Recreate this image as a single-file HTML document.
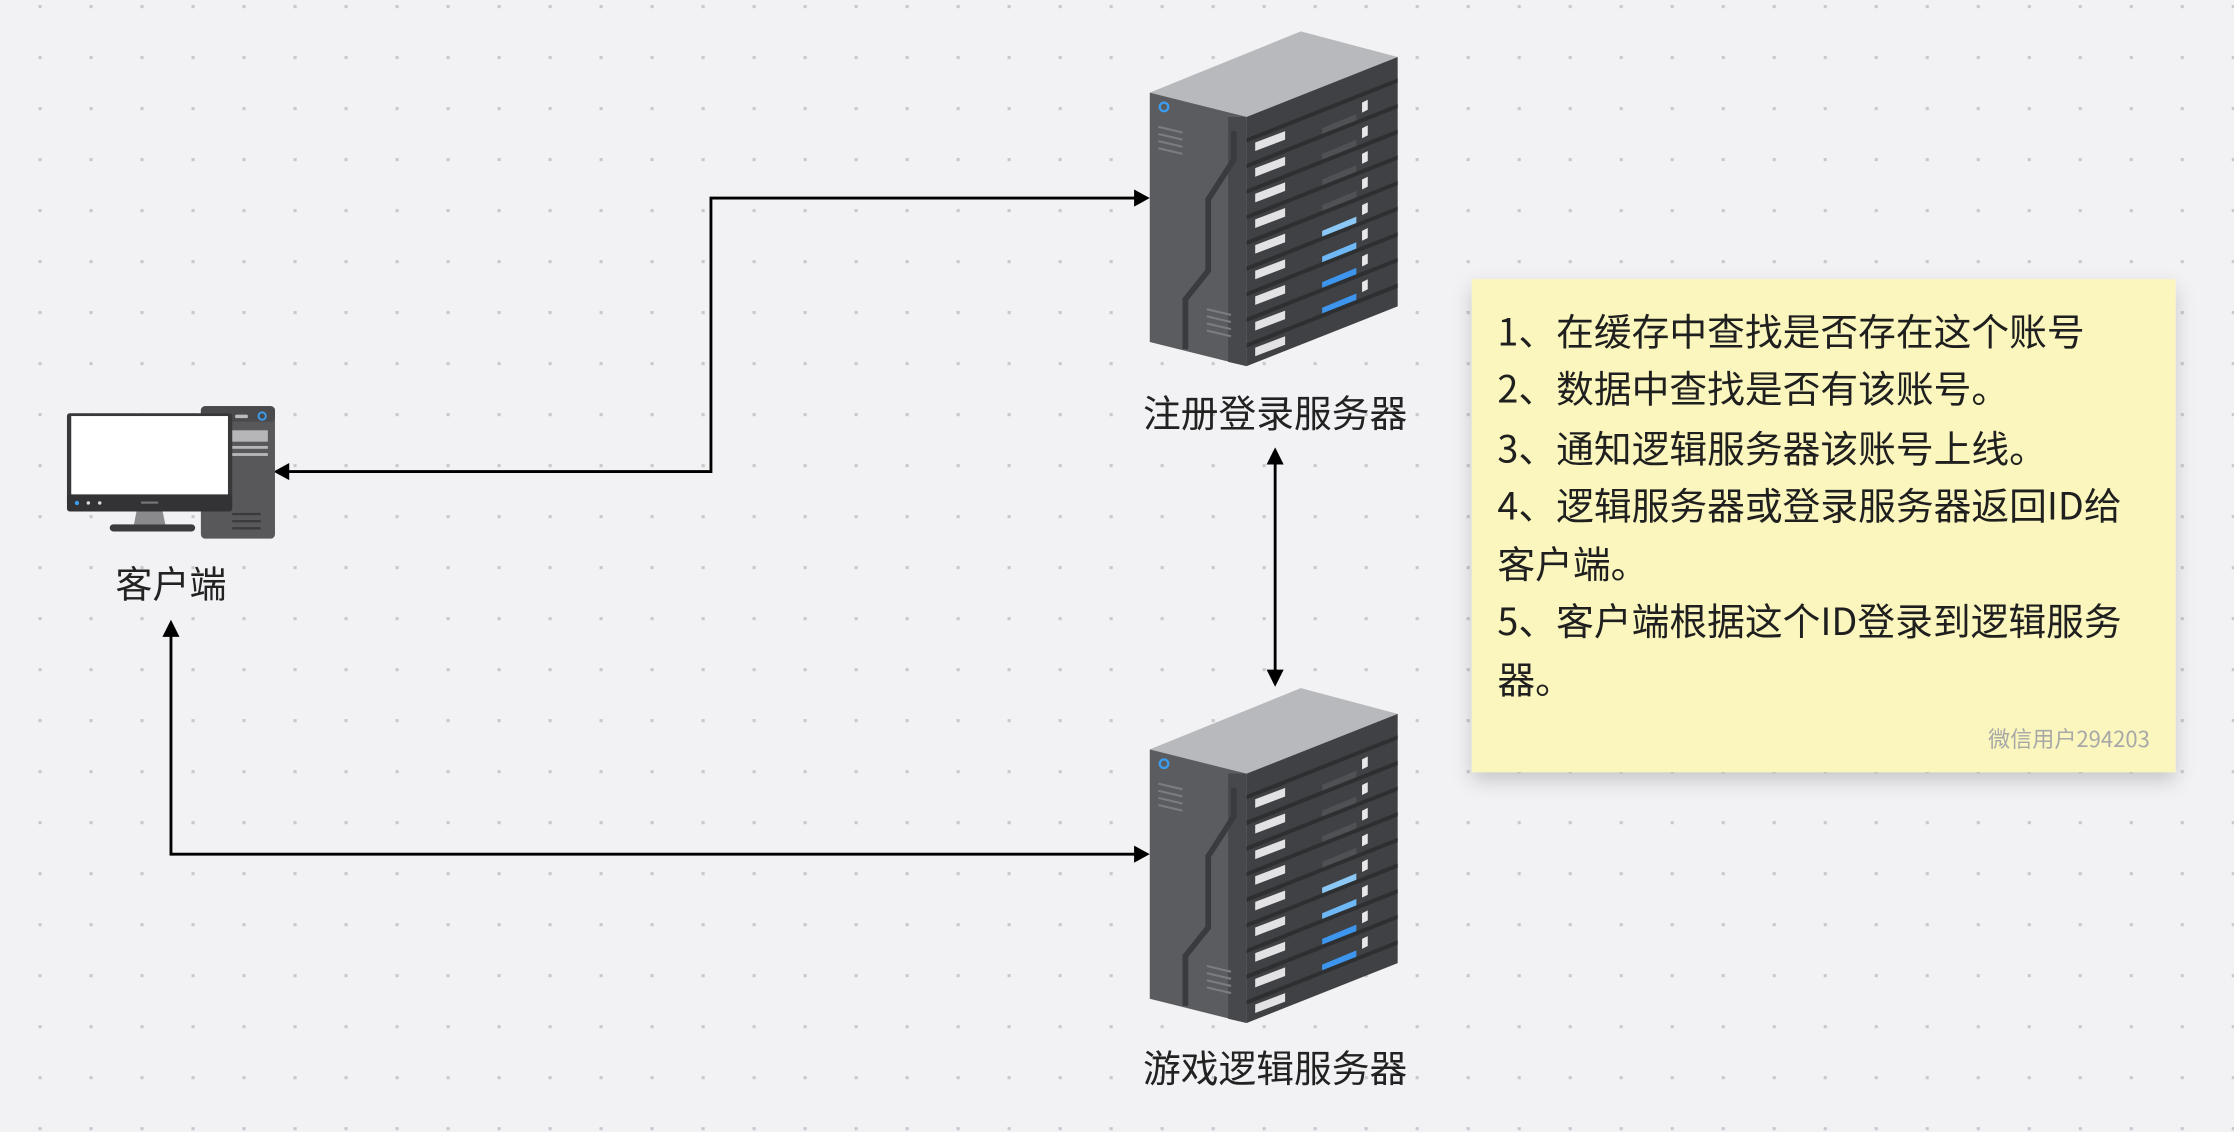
<!DOCTYPE html>
<html><head><meta charset="utf-8"><style>
html,body{margin:0;padding:0;background:#f2f2f4;}
svg{display:block}
text{font-family:"Noto Sans CJK SC","Liberation Sans",sans-serif;}
</style></head><body>
<svg width="2234" height="1132" viewBox="0 0 1568 794.5" xmlns="http://www.w3.org/2000/svg">
<defs>
<pattern id="dots" x="27" y="3.5" width="35.8" height="35.8" patternUnits="userSpaceOnUse">
<rect x="0" y="0" width="2.2" height="2.2" fill="#c9c9cd"/>
</pattern>
<filter id="sh" x="-10%" y="-10%" width="125%" height="130%">
<feDropShadow dx="0" dy="6" stdDeviation="7" flood-color="#000" flood-opacity="0.18"/>
</filter>
<g id="server">
<polygon points="807,65 913,22 981,40 875,82" fill="#b8b9bc"/>
<polygon points="807,65 875,82 875,257 807,240" fill="#5b5c5f"/>
<polygon points="862,82 875,82 875,257 862,254" fill="#47484b"/>
<polyline points="866,92 866,112 848,140 848,190 832,210 832,245" fill="none" stroke="#3a3b3e" stroke-width="4"/>
<polygon points="875,82 981,40 981,215 875,257" fill="#404144"/>
<circle cx="817" cy="75" r="3" fill="none" stroke="#3c9df0" stroke-width="1.6"/>
<g stroke="#7b7c80" stroke-width="1.5">
<line x1="813" y1="89" x2="830" y2="93"/><line x1="813" y1="94" x2="830" y2="98"/><line x1="813" y1="99" x2="830" y2="103"/><line x1="813" y1="104" x2="830" y2="108"/>
<line x1="847" y1="217" x2="864" y2="221"/><line x1="847" y1="222" x2="864" y2="226"/><line x1="847" y1="227" x2="864" y2="231"/><line x1="847" y1="232" x2="864" y2="236"/>
</g>
<g>
<g id="row">
<polygon points="875,97 981,55 981,58 875,100" fill="#2e2f31"/>
<polygon points="881,100 902,92 902,98 881,106" fill="#e2e2e4"/>
<polygon points="928,90 952,80 952,85 928,95" fill="#505155"/>
<polygon points="956,72 960,70 960,77 956,79" fill="#e8e8ea"/>
</g>
<use href="#row" y="18"/>
<use href="#row" y="36"/>
<use href="#row" y="54"/>
<g transform="translate(0,72)">
<polygon points="875,97 981,55 981,58 875,100" fill="#2e2f31"/>
<polygon points="881,100 902,92 902,98 881,106" fill="#e2e2e4"/>
<polygon points="928,90 952,80 952,85 928,95" fill="#8cc8f6"/>
<polygon points="956,72 960,70 960,77 956,79" fill="#e8e8ea"/>
</g>
<g transform="translate(0,90)">
<polygon points="875,97 981,55 981,58 875,100" fill="#2e2f31"/>
<polygon points="881,100 902,92 902,98 881,106" fill="#e2e2e4"/>
<polygon points="928,90 952,80 952,85 928,95" fill="#6db8f5"/>
<polygon points="956,72 960,70 960,77 956,79" fill="#e8e8ea"/>
</g>
<g transform="translate(0,108)">
<polygon points="875,97 981,55 981,58 875,100" fill="#2e2f31"/>
<polygon points="881,100 902,92 902,98 881,106" fill="#e2e2e4"/>
<polygon points="928,90 952,80 952,85 928,95" fill="#3d95ee"/>
<polygon points="956,72 960,70 960,77 956,79" fill="#e8e8ea"/>
</g>
<g transform="translate(0,126)">
<polygon points="875,97 981,55 981,58 875,100" fill="#2e2f31"/>
<polygon points="881,100 902,92 902,98 881,106" fill="#e2e2e4"/>
<polygon points="928,90 952,80 952,85 928,95" fill="#3d95ee"/>
<polygon points="956,72 960,70 960,77 956,79" fill="#e8e8ea"/>
</g>
<g transform="translate(0,144)">
<polygon points="875,97 981,55 981,58 875,100" fill="#2e2f31"/>
<polygon points="881,100 902,92 902,98 881,106" fill="#e2e2e4"/>
</g>
</g>
</g>
</defs>
<rect width="1568" height="794.5" fill="#f2f2f4"/>
<rect width="1568" height="794.5" fill="url(#dots)"/>

<g stroke="#000" stroke-width="2" fill="none">
<polyline points="201,331 499,331 499,139 798,139"/>
<polyline points="120,446 120,599.5 798,599.5"/>
<line x1="895" y1="324" x2="895" y2="472"/>
</g>
<g fill="#000">
<polygon points="192,331 203,325 203,337"/>
<polygon points="807,139 796,133 796,145"/>
<polygon points="807,599.5 796,593.5 796,605.5"/>
<polygon points="120,435 114,447 126,447"/>
<polygon points="895,314 889,326 901,326"/>
<polygon points="895,482 889,470 901,470"/>
</g>

<use href="#server"/>
<use href="#server" y="461"/>
<text x="895" y="288" font-size="26.5" fill="#222" text-anchor="middle" dominant-baseline="central">注册登录服务器</text>
<text x="895" y="748" font-size="26.5" fill="#222" text-anchor="middle" dominant-baseline="central">游戏逻辑服务器</text>

<rect x="141" y="285" width="52" height="93" rx="3" fill="#58585b"/>
<rect x="141" y="285" width="52" height="11" rx="3" fill="#4a4a4d"/>
<rect x="165" y="291" width="9" height="2.5" rx="1" fill="#bbb"/>
<circle cx="184" cy="292" r="2.6" fill="none" stroke="#3c9df0" stroke-width="1.3"/>
<rect x="158" y="302" width="30" height="8" fill="#b6b6b8"/>
<rect x="158" y="313" width="30" height="2" fill="#b6b6b8"/>
<rect x="158" y="318" width="30" height="2" fill="#b6b6b8"/>
<polygon points="97,353 113,353 116,368 94,368" fill="#8a8a8c"/>
<rect x="77" y="368" width="60" height="5" rx="2.5" fill="#3b3b3d"/>
<rect x="47" y="290" width="116" height="62" rx="2" fill="#38383a"/>
<rect x="50" y="292" width="110" height="56" fill="#fff"/>
<rect x="47" y="347" width="116" height="12" rx="2" fill="#333335"/>
<circle cx="54" cy="353" r="1.5" fill="#3c9df0"/>
<circle cx="62" cy="353" r="1.2" fill="#ddd"/>
<circle cx="70" cy="353" r="1.2" fill="#ddd"/>
<rect x="99" y="352" width="12" height="1.5" fill="#777"/>
<rect x="163" y="360" width="20" height="1.6" fill="#3a3a3c"/>
<rect x="163" y="365" width="20" height="1.6" fill="#3a3a3c"/>
<rect x="163" y="370" width="20" height="1.6" fill="#3a3a3c"/>
<text x="120" y="408" font-size="26" fill="#222" text-anchor="middle" dominant-baseline="central">客户端</text>

<rect x="1033" y="196" width="494" height="346" fill="#faf6bd" filter="url(#sh)"/>
<g font-size="26.5" fill="#1f1f1f" dominant-baseline="central">
<text x="1051" y="231">1、在缓存中查找是否存在这个账号</text>
<text x="1051" y="271">2、数据中查找是否有该账号。</text>
<text x="1051" y="313">3、通知逻辑服务器该账号上线。</text>
<text x="1051" y="353">4、逻辑服务器或登录服务器返回ID给</text>
<text x="1051" y="394">客户端。</text>
<text x="1051" y="434">5、客户端根据这个ID登录到逻辑服务</text>
<text x="1051" y="475">器。</text>
</g>
<text x="1509" y="518" font-size="15.5" fill="#a8a8a8" text-anchor="end" dominant-baseline="central">微信用户294203</text>
</svg>
</body></html>
